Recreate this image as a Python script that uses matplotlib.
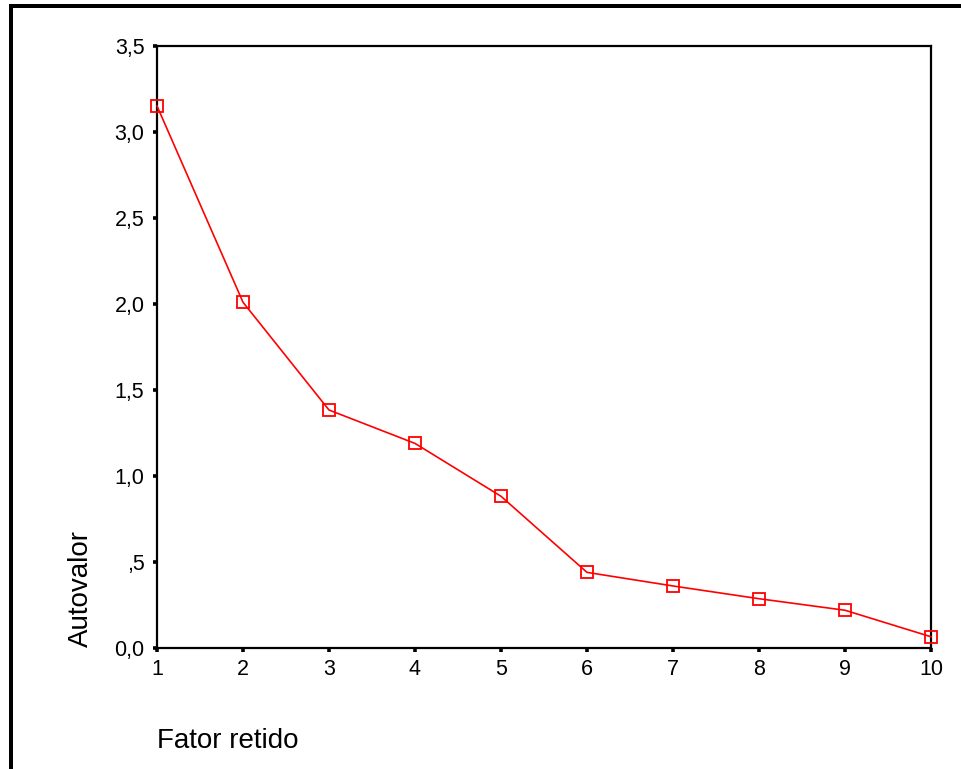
import matplotlib
matplotlib.use("Agg")
import matplotlib.pyplot as plt
from matplotlib.patches import Rectangle

plt.rcParams['font.family'] = ['Liberation Sans', 'DejaVu Sans']

# scree plot values
factors = [1, 2, 3, 4, 5, 6, 7, 8, 9, 10]
eigenvalues = [3.15, 2.01, 1.384, 1.19, 0.883, 0.441, 0.362, 0.288, 0.221, 0.067]
y_ticks = [0.0, 0.5, 1.0, 1.5, 2.0, 2.5, 3.0, 3.5]
y_tick_labels = ['0,0', ',5', '1,0', '1,5', '2,0', '2,5', '3,0', '3,5']

W, H = 962, 769
fig = plt.figure(figsize=(W / 100, H / 100), dpi=100)

# outer frame (left and top only)
fig.add_artist(Rectangle((9 / W, 0), 4 / W, 1 - 4 / H, transform=fig.transFigure,
                         facecolor='black', edgecolor='none'))
fig.add_artist(Rectangle((9 / W, 1 - 8.3 / H), 1, 4 / H, transform=fig.transFigure,
                         facecolor='black', edgecolor='none'))

left, right, top, bottom = 157, 931, 45.7, 648.3
ax = fig.add_axes([left / W, (H - bottom) / H, (right - left) / W, (bottom - top) / H])

ax.plot(factors, eigenvalues, color='red', lw=1.2, marker='s', markersize=8.5,
        markerfacecolor='none', markeredgecolor='red', markeredgewidth=1.3,
        clip_on=False, zorder=3)

ax.set_xlim(1, 10)
ax.set_ylim(0, 3.5)
ax.set_xticks(factors)
ax.set_xticklabels([str(f) for f in factors])
ax.set_yticks(y_ticks)
ax.set_yticklabels(y_tick_labels)

for s in ax.spines.values():
    s.set_linewidth(1.6)
    s.set_color('black')

ax.tick_params(axis='y', direction='out', length=3, width=2.6, pad=6,
               labelsize=15.5)
ax.tick_params(axis='x', direction='out', length=3, width=2.6, pad=4.5,
               labelsize=15.5)

fig.text(157 / W, (H - 748) / H, 'Fator retido', fontsize=20,
         ha='left', va='baseline')
fig.text(88 / W, (H - 647) / H, 'Autovalor', fontsize=20, rotation=90,
         ha='left', va='baseline', rotation_mode='anchor')

fig.savefig('out.png', dpi=100)
